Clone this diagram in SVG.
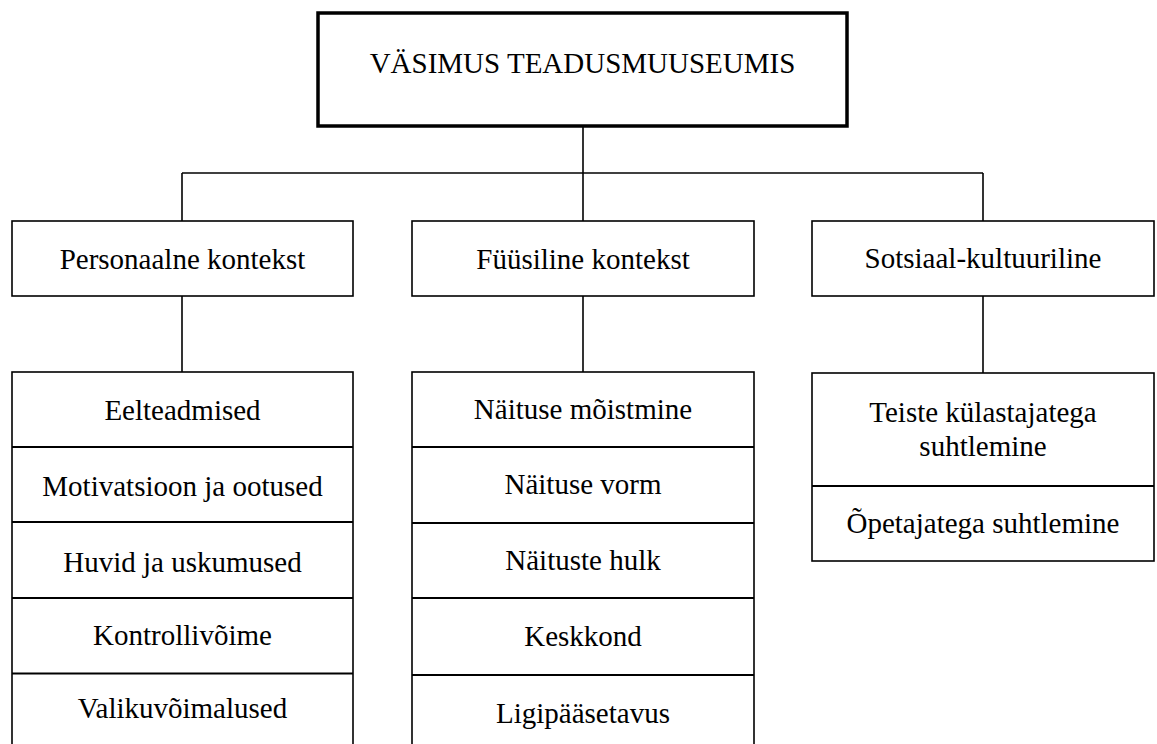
<svg xmlns="http://www.w3.org/2000/svg" width="1157" height="744" viewBox="0 0 1157 744">
<style>
.t{font-family:'Liberation Serif','Times New Roman',serif;font-size:29px;fill:#000;text-anchor:middle}
.box{fill:#fff;stroke:#000;stroke-width:1.6}
.main{fill:#fff;stroke:#000;stroke-width:3.5}
.div{stroke:#000;stroke-width:2.2;fill:none}
.conn{stroke:#000;stroke-width:1.6;fill:none}
</style>
<rect width="1157" height="744" fill="#fff"/>
<g id="connectors">
<line class="conn" x1="583" y1="126" x2="583" y2="221"/>
<line class="conn" x1="182" y1="173" x2="983" y2="173"/>
<line class="conn" x1="182" y1="173" x2="182" y2="221"/>
<line class="conn" x1="983" y1="173" x2="983" y2="221"/>
<line class="conn" x1="182" y1="296" x2="182" y2="372"/>
<line class="conn" x1="583" y1="296" x2="583" y2="372"/>
<line class="conn" x1="983" y1="296" x2="983" y2="373"/>
</g>
<g id="root">
<rect class="main" x="318" y="13" width="529" height="113"/>
<text class="t" x="582.5" y="73">VÄSIMUS TEADUSMUUSEUMIS</text>
</g>
<g id="personal">
<rect class="box" x="12" y="221" width="341" height="75"/>
<text class="t" x="182.5" y="269">Personaalne kontekst</text>
</g>
<g id="fyysiline">
<rect class="box" x="412" y="221" width="342" height="75"/>
<text class="t" x="583" y="269">Füüsiline kontekst</text>
</g>
<g id="sotsiaal">
<rect class="box" x="812" y="221" width="342" height="75"/>
<text class="t" x="983" y="268">Sotsiaal-kultuuriline</text>
</g>
<g id="personal-list">
<rect class="box" x="12" y="372" width="341" height="390"/>
<line class="div" x1="12" y1="447" x2="353" y2="447"/>
<line class="div" x1="12" y1="522" x2="353" y2="522"/>
<line class="div" x1="12" y1="598" x2="353" y2="598"/>
<line class="div" x1="12" y1="673.5" x2="353" y2="673.5"/>
<text class="t" x="182.5" y="420">Eelteadmised</text>
<text class="t" x="182.5" y="496">Motivatsioon ja ootused</text>
<text class="t" x="182.5" y="572">Huvid ja uskumused</text>
<text class="t" x="182.5" y="645">Kontrollivõime</text>
<text class="t" x="182.5" y="718">Valikuvõimalused</text>
</g>
<g id="fyysiline-list">
<rect class="box" x="412" y="372" width="342" height="390"/>
<line class="div" x1="412" y1="447" x2="754" y2="447"/>
<line class="div" x1="412" y1="523" x2="754" y2="523"/>
<line class="div" x1="412" y1="598" x2="754" y2="598"/>
<line class="div" x1="412" y1="675" x2="754" y2="675"/>
<text class="t" x="583" y="419">Näituse mõistmine</text>
<text class="t" x="583" y="494">Näituse vorm</text>
<text class="t" x="583" y="570">Näituste hulk</text>
<text class="t" x="583" y="646">Keskkond</text>
<text class="t" x="583" y="723">Ligipääsetavus</text>
</g>
<g id="sotsiaal-list">
<rect class="box" x="812" y="373" width="342" height="188"/>
<line class="div" x1="812" y1="486" x2="1154" y2="486"/>
<text class="t" x="983" y="422">Teiste külastajatega</text>
<text class="t" x="983" y="456">suhtlemine</text>
<text class="t" x="983" y="533">Õpetajatega suhtlemine</text>
</g>
</svg>
